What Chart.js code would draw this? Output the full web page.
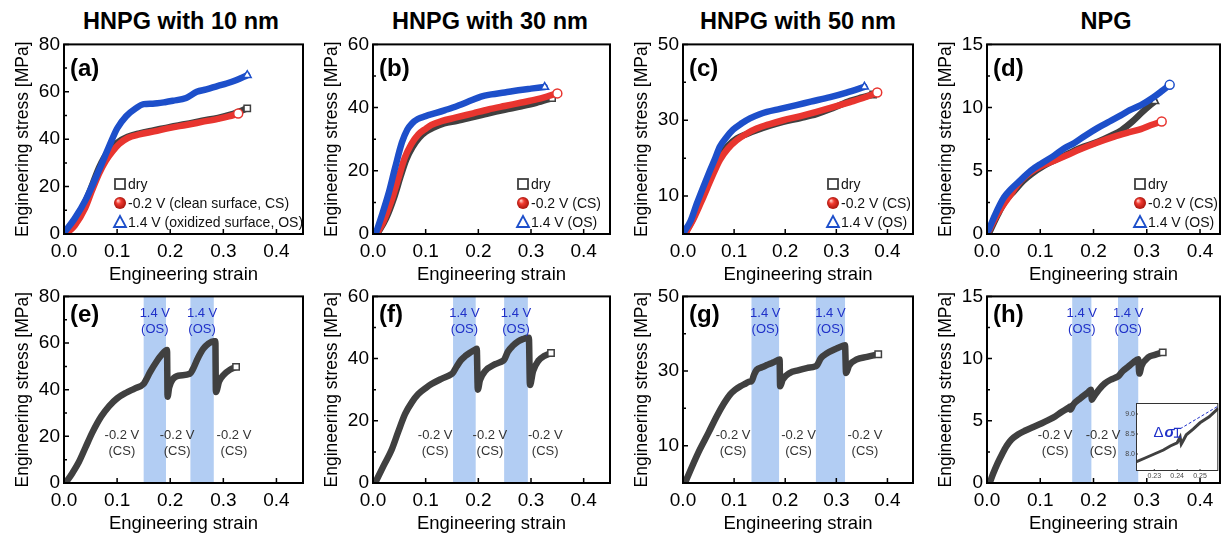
<!DOCTYPE html>
<html>
<head>
<meta charset="utf-8">
<script src="https://cdn.jsdelivr.net/npm/chart.js@4.4.1/dist/chart.umd.min.js"></script>
<style>
  html, body { margin: 0; padding: 0; background: #fff; overflow: hidden; }
  body { width: 1223px; height: 536px; position: relative; font-family: 'Liberation Sans', Arial, sans-serif; }
  canvas { position: absolute; }
  .ttl { position: absolute; top: 8px; font-weight: bold; font-size: 23.5px; line-height: 26px; transform: translateX(-50%); white-space: nowrap; color: #000; }
</style>
</head>
<body>
<div class="ttl" style="left:181px">HNPG with 10 nm</div>
<div class="ttl" style="left:490px">HNPG with 30 nm</div>
<div class="ttl" style="left:798px">HNPG with 50 nm</div>
<div class="ttl" style="left:1106px">NPG</div>
<script>
const FONT = "'Liberation Sans', Arial, sans-serif"
const GRAY = '#404040'
const RED = '#e8352f'
const BLUE = '#1d4fca'
const BAND = '#b2cdf3'
const NOTE_BLUE = '#1f30c8'

// tick values
const xTicks = [0, 0.1, 0.2, 0.3, 0.4]
const yTicks80 = [0, 20, 40, 60, 80]
const yTicks60 = [0, 20, 40, 60]
const yTicks50 = [10, 30, 50]
const yTicks15 = [0, 5, 10, 15]

const legendLong = ['dry', '-0.2 V (clean surface, CS)', '1.4 V (oxidized surface, OS)']
const legendShort = ['dry', '-0.2 V (CS)', '1.4 V (OS)']
const noteOS = ['1.4 V', '(OS)']
const noteCS = ['-0.2 V', '(CS)']

// (a) HNPG 10 nm  [strain, stress MPa]
const aDry = [[0,0],[0.02,6],[0.041,14],[0.066,28],[0.075,32],[0.085,35.3],[0.1,38.5],[0.12,41],[0.142,42.5],[0.17,43.8],[0.2,45.2],[0.23,46.4],[0.26,47.8],[0.29,49],[0.315,50.5],[0.345,53]]
const aCS = [[0.003,0],[0.02,3.5],[0.04,11],[0.053,18.5],[0.066,25.5],[0.079,31],[0.092,35],[0.104,38],[0.12,40.5],[0.142,42],[0.17,43.3],[0.2,44.8],[0.23,46],[0.26,47.3],[0.29,48.6],[0.31,49.6],[0.328,50.8]]
const aOS = [[0,0.5],[0.02,6.5],[0.041,14.5],[0.066,27],[0.085,37],[0.1,44.5],[0.117,49.7],[0.135,53],[0.15,54.8],[0.167,55],[0.19,55.6],[0.205,56.2],[0.23,57.4],[0.25,60],[0.268,61],[0.29,62.5],[0.306,63.5],[0.325,65],[0.345,67]]

// (b) HNPG 30 nm
const bDry = [[0.008,0],[0.025,5],[0.04,11.5],[0.052,18],[0.063,23.5],[0.075,27.5],[0.088,30.5],[0.1,32.3],[0.115,33.7],[0.135,35],[0.16,35.8],[0.19,37],[0.22,38.2],[0.25,39.3],[0.282,40.4],[0.31,41.5],[0.34,43]]
const bCS = [[0.007,0],[0.02,4],[0.035,10.5],[0.048,17.5],[0.06,24],[0.073,28.5],[0.086,31.5],[0.1,33.3],[0.111,34.5],[0.13,35.7],[0.156,36.8],[0.19,38.2],[0.219,39.4],[0.25,40.5],[0.282,41.6],[0.31,42.6],[0.33,43.5],[0.35,44.5]]
const bOS = [[0.005,0],[0.015,5],[0.029,12.5],[0.042,21],[0.055,29],[0.065,33],[0.074,35],[0.085,36.4],[0.1,37.3],[0.12,38.3],[0.137,39.2],[0.16,40.5],[0.187,42.3],[0.205,43.5],[0.225,44.2],[0.25,44.8],[0.276,45.5],[0.3,46],[0.326,46.5]]

// (c) HNPG 50 nm
const cDry = [[0.004,0],[0.02,4.2],[0.04,10.5],[0.055,15.5],[0.072,20.5],[0.088,23.3],[0.105,25.2],[0.125,26.4],[0.144,27.4],[0.17,28.6],[0.196,29.6],[0.23,30.6],[0.261,31.6],[0.295,33.3],[0.327,35.1],[0.35,36],[0.372,36.8]]
const cCS = [[0.004,0],[0.02,3.8],[0.04,9.8],[0.055,14.5],[0.072,19.5],[0.088,22.5],[0.105,24.7],[0.125,26.5],[0.144,27.8],[0.17,29],[0.196,30],[0.23,31.1],[0.261,32.2],[0.295,33.5],[0.327,34.8],[0.355,36],[0.38,37.3]]
const cOS = [[0.002,0.5],[0.015,3.5],[0.027,8],[0.04,12.5],[0.053,16.8],[0.063,20],[0.072,23],[0.085,25.5],[0.098,27.5],[0.115,29.2],[0.131,30.5],[0.15,31.6],[0.164,32.2],[0.19,33],[0.222,34],[0.25,34.9],[0.288,36.1],[0.32,37.3],[0.355,38.8]]

// (d) NPG
const dDry = [[0.003,0],[0.02,1.5],[0.034,2.6],[0.051,3.4],[0.068,4.2],[0.082,4.7],[0.107,5.4],[0.145,6.2],[0.175,6.8],[0.208,7.3],[0.234,7.8],[0.252,8.2],[0.273,8.9],[0.293,9.7],[0.315,10.5]]
const dCS = [[0.004,0.3],[0.02,1.6],[0.044,3.1],[0.063,4.2],[0.082,4.9],[0.103,5.4],[0.126,5.8],[0.151,6.25],[0.175,6.7],[0.205,7.2],[0.239,7.7],[0.263,8],[0.289,8.3],[0.307,8.6],[0.328,8.9]]
const dOS = [[0.003,0.3],[0.015,1.5],[0.032,2.9],[0.044,3.5],[0.059,4.1],[0.082,5],[0.103,5.6],[0.126,6.2],[0.146,6.8],[0.164,7.2],[0.185,7.8],[0.208,8.4],[0.23,8.9],[0.252,9.4],[0.268,9.8],[0.289,10.2],[0.312,10.8],[0.328,11.3],[0.343,11.8]]

// (e)-(h) potential switching tests
const eSwitch = [[0.003,0],[0.015,4],[0.028,9],[0.04,15],[0.053,21.5],[0.07,28.5],[0.085,33],[0.1,36.3],[0.117,38.7],[0.133,40.5],[0.15,42.5],[0.154,44],[0.162,47.5],[0.175,52.3],[0.184,55],[0.192,56.8],[0.194,57],[0.195,37],[0.198,41],[0.205,44.5],[0.215,46],[0.237,46.8],[0.242,48.5],[0.252,53.5],[0.262,57.5],[0.272,59.8],[0.282,60.8],[0.285,60.8],[0.286,39],[0.292,43.5],[0.302,46.7],[0.312,48.5],[0.324,49.8]]
const fSwitch = [[0.004,0],[0.02,5.5],[0.035,10.5],[0.048,16.5],[0.061,22.2],[0.074,26],[0.086,28.6],[0.1,30.5],[0.111,31.8],[0.13,33.5],[0.149,35],[0.152,35.5],[0.159,37.5],[0.167,39.5],[0.175,40.8],[0.185,42],[0.195,43],[0.197,43.2],[0.199,30],[0.203,33],[0.213,36],[0.232,38.2],[0.247,39.3],[0.249,39.6],[0.256,42.2],[0.266,44.2],[0.276,45.6],[0.285,46.3],[0.293,46.7],[0.296,46.7],[0.298,31.5],[0.304,36],[0.314,39.3],[0.325,40.8],[0.338,41.8]]
const gSwitch = [[0.004,0],[0.018,4.5],[0.033,9],[0.05,13.5],[0.066,17.9],[0.08,21.3],[0.092,23.7],[0.102,25],[0.112,25.9],[0.122,26.6],[0.131,27.2],[0.134,27.2],[0.139,29],[0.144,30.3],[0.154,31],[0.164,31.6],[0.176,32.3],[0.187,33],[0.189,33.1],[0.19,25.9],[0.195,27.7],[0.209,29.5],[0.225,30.2],[0.242,30.8],[0.258,31.2],[0.262,31.5],[0.27,33.5],[0.281,34.7],[0.3,36],[0.314,36.8],[0.317,36.9],[0.319,29.5],[0.325,31.5],[0.34,33.1],[0.36,33.8],[0.382,34.5]]
const hSwitch = [[0.005,0],[0.012,0.8],[0.02,1.6],[0.028,2.3],[0.037,3],[0.046,3.5],[0.058,3.9],[0.071,4.2],[0.087,4.5],[0.103,4.8],[0.115,5.05],[0.128,5.35],[0.14,5.7],[0.153,6.05],[0.156,6.15],[0.157,5.9],[0.162,6.3],[0.175,6.8],[0.19,7.3],[0.195,7.5],[0.197,6.7],[0.2,6.9],[0.21,7.5],[0.221,8],[0.232,8.3],[0.243,8.5],[0.247,8.6],[0.255,9],[0.265,9.35],[0.275,9.7],[0.284,9.95],[0.286,8.8],[0.29,9.4],[0.303,10.1],[0.315,10.3],[0.33,10.5]]

// oxidizing (1.4 V) windows [start strain, end strain]
const eBands = [[0.15, 0.192], [0.238, 0.282]]
const fBands = [[0.152, 0.195], [0.249, 0.294]]
const gBands = [[0.134, 0.188], [0.26, 0.317]]
const hBands = [[0.16, 0.196], [0.246, 0.284]]
// where the -0.2 V notes sit (strain)
const eCsAt = [0.109, 0.213, 0.32]
const fCsAt = [0.118, 0.222, 0.327]
const gCsAt = [0.098, 0.226, 0.356]
const hCsAt = [0.128, 0.218]

// inset of (h)
const insetLine = [[0.222,7.8],[0.226,7.9],[0.23,8.0],[0.234,8.1],[0.237,8.2],[0.24,8.28],[0.2413,8.42],[0.2418,8.25],[0.2425,8.32],[0.244,8.48],[0.247,8.62],[0.25,8.78],[0.254,8.93],[0.258,9.14]]
const insetGuide = [[0.2413,8.63],[0.258,9.2]]
const insetBar = [[0.2401,8.42],[0.2401,8.64]]
const insetXTicks = [0.23, 0.24, 0.25]
const insetYTicks = [8.0, 8.5, 9.0]

const rows = {
  top: { top: 43, bottom: 234, labelDy: 25 },
  bot: { top: 295, bottom: 483, labelDy: 19 },
}
const cols = [
  { left: 64, right: 303, xMax: 0.45 },
  { left: 373, right: 610, xMax: 0.45 },
  { left: 683, right: 913, xMax: 0.45 },
  { left: 987, right: 1220, xMax: 0.4375 },
]

const panels = [
  { col: 0, row: 'top', label: '(a)', yMax: 80, yTicks: yTicks80, legend: legendLong, legendDx: 56,
    lines: [[aOS, BLUE, 'triangle'], [aCS, RED, 'circle'], [aDry, GRAY, 'rect']] },
  { col: 1, row: 'top', label: '(b)', yMax: 60, yTicks: yTicks60, legend: legendShort, legendDx: 150,
    lines: [[bOS, BLUE, 'triangle'], [bCS, RED, 'circle'], [bDry, GRAY, 'rect']] },
  { col: 2, row: 'top', label: '(c)', yMax: 50, yTicks: yTicks50, legend: legendShort, legendDx: 150,
    lines: [[cOS, BLUE, 'triangle'], [cCS, RED, 'circle'], [cDry, GRAY, 'rect']] },
  { col: 3, row: 'top', label: '(d)', yMax: 15, yTicks: yTicks15, legend: legendShort, legendDx: 153,
    lines: [[dOS, BLUE, 'circle'], [dCS, RED, 'circle'], [dDry, GRAY, 'triangle']] },
  { col: 0, row: 'bot', label: '(e)', yMax: 80, yTicks: yTicks80, bands: eBands, cs: eCsAt, lines: [[eSwitch, GRAY, 'rect']] },
  { col: 1, row: 'bot', label: '(f)', yMax: 60, yTicks: yTicks60, bands: fBands, cs: fCsAt, lines: [[fSwitch, GRAY, 'rect']] },
  { col: 2, row: 'bot', label: '(g)', yMax: 50, yTicks: yTicks50, bands: gBands, cs: gCsAt, lines: [[gSwitch, GRAY, 'rect']] },
  { col: 3, row: 'bot', label: '(h)', yMax: 15, yTicks: yTicks15, bands: hBands, cs: hCsAt, lines: [[hSwitch, GRAY, 'rect']] },
]

function makeCanvas(left, top, w, h) {
  const c = document.createElement('canvas')
  c.width = w
  c.height = h
  c.style.left = left + 'px'
  c.style.top = top + 'px'
  c.style.width = w + 'px'
  c.style.height = h + 'px'
  document.body.appendChild(c)
  return c
}

function sphere(ctx, cx, cy, r) {
  const g = ctx.createRadialGradient(cx - r * 0.35, cy - r * 0.4, r * 0.1, cx, cy, r)
  g.addColorStop(0, '#ffc2bb')
  g.addColorStop(0.35, '#f23b31')
  g.addColorStop(1, '#a8140c')
  ctx.fillStyle = g
  ctx.beginPath()
  ctx.arc(cx, cy, r, 0, Math.PI * 2)
  ctx.fill()
}

function drawNote(ctx, lines, cx, cy, color) {
  ctx.fillStyle = color
  ctx.font = '13px ' + FONT
  ctx.textAlign = 'center'
  ctx.textBaseline = 'middle'
  lines.forEach((t, i) => ctx.fillText(t, cx, cy + i * 16.5))
}

function deco(p) {
  return {
    id: 'deco',
    beforeDatasetsDraw(chart) {
      const { ctx, chartArea: a, scales: { x } } = chart
      ctx.save()
      ctx.fillStyle = BAND
      for (const b of p.bands || []) {
        const x0 = x.getPixelForValue(b[0])
        const x1 = x.getPixelForValue(b[1])
        ctx.fillRect(x0, a.top, x1 - x0, a.bottom - a.top)
      }
      ctx.restore()
    },
    afterDatasetsDraw(chart) {
      const { ctx, chartArea: a, scales: { x, y } } = chart
      const h = a.bottom - a.top
      ctx.save()

      // inward tick marks, left and bottom only
      ctx.strokeStyle = '#000'
      ctx.lineWidth = 1.5
      ctx.beginPath()
      xTicks.forEach(v => {
        const px = x.getPixelForValue(v)
        ctx.moveTo(px, a.bottom); ctx.lineTo(px, a.bottom - 5)
        const pm = x.getPixelForValue(v + 0.05)
        if (v + 0.05 < p.xMax) { ctx.moveTo(pm, a.bottom); ctx.lineTo(pm, a.bottom - 3) }
      })
      p.yTicks.forEach((v, i) => {
        const py = y.getPixelForValue(v)
        ctx.moveTo(a.left, py); ctx.lineTo(a.left + 5, py)
        if (i > 0) {
          const pm = y.getPixelForValue((v + p.yTicks[i - 1]) / 2)
          ctx.moveTo(a.left, pm); ctx.lineTo(a.left + 3, pm)
        }
      })
      ctx.stroke()

      // frame
      ctx.lineWidth = 2
      ctx.strokeRect(a.left, a.top, a.right - a.left, h)

      // panel letter
      ctx.fillStyle = '#000'
      ctx.font = 'bold 24px ' + FONT
      ctx.textAlign = 'left'
      ctx.textBaseline = 'middle'
      ctx.fillText(p.label, a.left + 6, a.top + rows[p.row].labelDy)

      // potential notes
      for (const b of p.bands || []) {
        drawNote(ctx, noteOS, x.getPixelForValue((b[0] + b[1]) / 2), a.top + 0.089 * h, NOTE_BLUE)
      }
      for (const v of p.cs || []) {
        drawNote(ctx, noteCS, x.getPixelForValue(v), a.top + 0.745 * h, '#333')
      }

      // legend inside the plot
      if (p.legend) {
        const mx = a.left + p.legendDx
        const rowsY = [a.bottom - 50, a.bottom - 31, a.bottom - 12]
        ctx.lineWidth = 1.8
        ctx.strokeStyle = GRAY
        ctx.strokeRect(mx - 5, rowsY[0] - 5, 10, 10)
        sphere(ctx, mx, rowsY[1], 6)
        ctx.strokeStyle = BLUE
        ctx.beginPath()
        ctx.moveTo(mx, rowsY[2] - 6); ctx.lineTo(mx + 6, rowsY[2] + 5); ctx.lineTo(mx - 6, rowsY[2] + 5); ctx.closePath()
        ctx.stroke()
        ctx.fillStyle = '#111'
        ctx.font = '14px ' + FONT
        ctx.textAlign = 'left'
        ctx.textBaseline = 'middle'
        p.legend.forEach((t, i) => ctx.fillText(t, mx + 8, rowsY[i] + 1))
      }
      ctx.restore()
    }
  }
}

function lineSet(pts, color, end) {
  const n = pts.length
  return {
    data: pts.map(q => ({ x: q[0], y: q[1] })),
    showLine: true,
    borderColor: color,
    borderWidth: 6.5,
    borderCapStyle: 'round',
    borderJoinStyle: 'round',
    cubicInterpolationMode: 'monotone',
    pointStyle: end,
    pointRadius: c => (c.dataIndex === n - 1 ? 4.5 : 0),
    pointHoverRadius: 0,
    pointBackgroundColor: '#fff',
    pointBorderColor: color,
    pointBorderWidth: 1.5,
  }
}

const L = 64, T = 14, R = 6, B = 52

panels.forEach(p => {
  const c = cols[p.col], r = rows[p.row]
  const canvas = makeCanvas(c.left - L, r.top - T, c.right - c.left + L + R, r.bottom - r.top + T + B)
  new Chart(canvas, {
    type: 'scatter',
    data: { datasets: p.lines.map(s => lineSet(s[0], s[1], s[2])) },
    options: {
      responsive: false,
      animation: false,
      devicePixelRatio: 1,
      layout: { padding: { top: T, right: R, left: 0, bottom: 0 } },
      plugins: { legend: { display: false }, tooltip: { enabled: false } },
      scales: {
        x: {
          type: 'linear', min: 0, max: c.xMax,
          grid: { display: false, drawTicks: false },
          border: { display: false },
          afterBuildTicks: s => { s.ticks = xTicks.map(v => ({ value: v })) },
          afterFit: s => { s.height = B },
          ticks: { padding: 6, color: '#000', font: { family: FONT, size: 19 }, callback: v => v.toFixed(1) },
          title: { display: true, text: 'Engineering strain', color: '#000', font: { family: FONT, size: 18.5 }, padding: { top: 0, bottom: 0 } },
        },
        y: {
          type: 'linear', min: 0, max: p.yMax,
          grid: { display: false, drawTicks: false },
          border: { display: false },
          afterBuildTicks: s => { s.ticks = p.yTicks.map(v => ({ value: v })) },
          afterFit: s => { s.width = L },
          ticks: { padding: 4, color: '#000', font: { family: FONT, size: 19 }, callback: v => String(v) },
          title: { display: true, text: 'Engineering stress [MPa]', color: '#000', font: { family: FONT, size: 17.5 }, padding: { top: 13, bottom: 0 } },
        },
      },
    },
    plugins: [deco(p)],
  })
})

// inset of panel (h)
const insetPlugin = {
  id: 'insetDeco',
  beforeDatasetsDraw(chart) {
    const { ctx, chartArea: a } = chart
    ctx.save()
    ctx.fillStyle = '#fff'
    ctx.fillRect(a.left, a.top, a.right - a.left, a.bottom - a.top)
    ctx.restore()
  },
  afterDatasetsDraw(chart) {
    const { ctx, chartArea: a, scales: { x, y } } = chart
    ctx.save()
    ctx.strokeStyle = '#333'
    ctx.lineWidth = 1
    ctx.strokeRect(a.left + 0.5, a.top + 0.5, a.right - a.left - 1, a.bottom - a.top - 1)
    ctx.beginPath()
    insetXTicks.forEach(v => { const px = x.getPixelForValue(v); ctx.moveTo(px, a.bottom); ctx.lineTo(px, a.bottom - 2) })
    insetYTicks.forEach(v => { const py = y.getPixelForValue(v); ctx.moveTo(a.left, py); ctx.lineTo(a.left + 2, py) })
    ctx.stroke()
    // delta sigma label
    const tx = x.getPixelForValue(insetBar[0][0]) - 3
    const ty = y.getPixelForValue(8.54)
    ctx.fillStyle = NOTE_BLUE
    ctx.textBaseline = 'middle'
    ctx.textAlign = 'right'
    ctx.font = 'bold italic 15px ' + FONT
    ctx.fillText('σ', tx, ty)
    const w = ctx.measureText('σ').width
    ctx.font = '15px ' + FONT
    ctx.fillText('Δ', tx - w - 1, ty)
    ctx.restore()
  }
}

const insetCanvas = makeCanvas(1114, 397, 109, 86)
new Chart(insetCanvas, {
  type: 'scatter',
  data: {
    datasets: [
      { data: insetBar.map(q => ({ x: q[0], y: q[1] })), showLine: true, borderColor: NOTE_BLUE, borderWidth: 1.2,
        pointStyle: 'line', pointRadius: 3.5, pointBorderColor: NOTE_BLUE, pointBorderWidth: 1.2, pointHoverRadius: 0 },
      { data: insetGuide.map(q => ({ x: q[0], y: q[1] })), showLine: true, borderColor: NOTE_BLUE, borderWidth: 1,
        borderDash: [3, 2], pointRadius: 0, pointHoverRadius: 0 },
      { data: insetLine.map(q => ({ x: q[0], y: q[1] })), showLine: true, borderColor: GRAY, borderWidth: 3,
        pointRadius: 0, pointHoverRadius: 0 },
    ],
  },
  options: {
    responsive: false,
    animation: false,
    devicePixelRatio: 1,
    layout: { padding: { top: 6, right: 3, left: 0, bottom: 0 } },
    plugins: { legend: { display: false }, tooltip: { enabled: false } },
    scales: {
      x: {
        type: 'linear', min: 0.222, max: 0.258,
        grid: { display: false, drawTicks: false }, border: { display: false },
        afterBuildTicks: s => { s.ticks = insetXTicks.map(v => ({ value: v })) },
        afterFit: s => { s.height = 12 },
        ticks: { padding: 1, color: '#444', font: { family: FONT, size: 7 }, callback: v => v.toFixed(2) },
      },
      y: {
        type: 'linear', min: 7.575, max: 9.275,
        grid: { display: false, drawTicks: false }, border: { display: false },
        afterBuildTicks: s => { s.ticks = insetYTicks.map(v => ({ value: v })) },
        afterFit: s => { s.width = 22 },
        ticks: { padding: 1, color: '#444', font: { family: FONT, size: 7 }, callback: v => v.toFixed(1) },
      },
    },
  },
  plugins: [insetPlugin],
})
</script>
</body>
</html>
